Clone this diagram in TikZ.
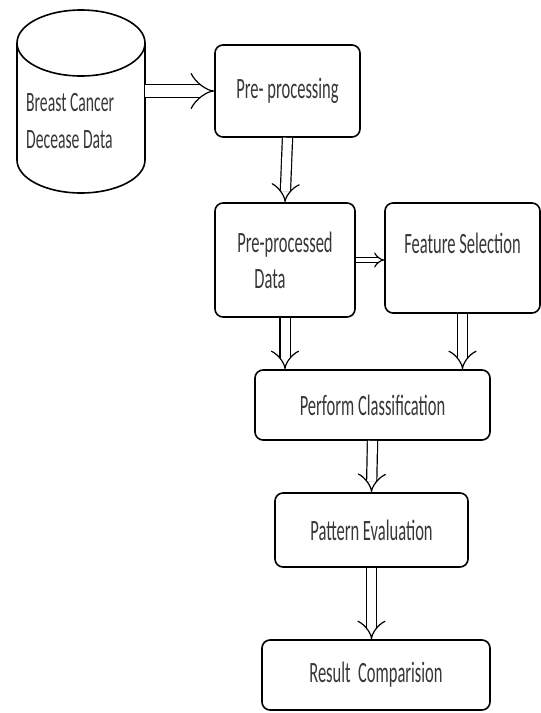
\documentclass[tikz,border=0pt]{standalone}
\usepackage{fontspec}
\setmainfont{Carlito}[FakeStretch=0.56]
\usetikzlibrary{arrows.meta,calc}
\definecolor{inkgray}{RGB}{55,55,55}
\tikzset{
  stagebox/.style={draw=black, rounded corners=8pt, line width=1.6pt,
    fill=white, align=center, text=inkgray, inner sep=0pt},
  hollowflow/.style={draw=black, double=white, double distance=#1,
    line width=1.2pt, -{Implies}},
  hollowflow/.default=9pt,
}

\begin{document}
\begin{tikzpicture}[x=1pt, y=-1pt, font=\fontsize{29.5}{36}\selectfont]
  \useasboundingbox (0,0) rectangle (541,713);

  %% ---- data store ----
  \node[minimum width=128pt, minimum height=185pt, inner sep=0pt] (data) at (81,101.5) {};
  \draw[line width=1.6pt] (81,43) ellipse [x radius=64pt, y radius=33pt];
  \draw[line width=1.6pt] (17,43) -- (17,160)
        arc[start angle=180, end angle=360, x radius=64pt, y radius=33pt] -- (145,43);
  \node[anchor=west, align=left, text=inkgray, inner sep=0pt,
        font=\fontsize{28}{37}\selectfont] (datalabel) at (26,121)
        {Breast Cancer\\Decease Data};

  %% ---- stages ----
  \node[stagebox, minimum width=145pt, minimum height=92pt] (pre) at (287.5,91) {Pre- processing};
  \node[stagebox, minimum width=140pt, minimum height=114pt, align=left] (ppd) at (285,260)
        {Pre-processed\\\hspace*{17pt}Data};
  \node[stagebox, minimum width=155pt, minimum height=110pt, text depth=30pt] (fsel) at (462.5,258)
        {Feature Selection};
  \node[stagebox, minimum width=235pt, minimum height=70pt] (classify) at (372.5,405)
        {Perform Classification};
  \node[stagebox, minimum width=193pt, minimum height=74pt] (pattern) at (371.5,530)
        {Pattern Evaluation};
  \node[stagebox, minimum width=228pt, minimum height=70pt] (result) at (376,675)
        {Result\ \ Comparision};

  %% ---- arrows ----
  \draw[hollowflow=12pt] (data.east |- pre.west) -- (pre.west);
  \draw[hollowflow] (pre.south) -- (ppd.north);
  \draw[hollowflow=4pt] (ppd.east) -- (fsel.west |- ppd.east);
  \draw[hollowflow] (ppd.south) -- (ppd.south |- classify.north);
  \draw[hollowflow] (fsel.south) -- (fsel.south |- classify.north);
  \draw[hollowflow] (classify.south) -- (pattern.north);
  \draw[hollowflow] (pattern.south) -- (pattern.south |- result.north);
\end{tikzpicture}
\end{document}
